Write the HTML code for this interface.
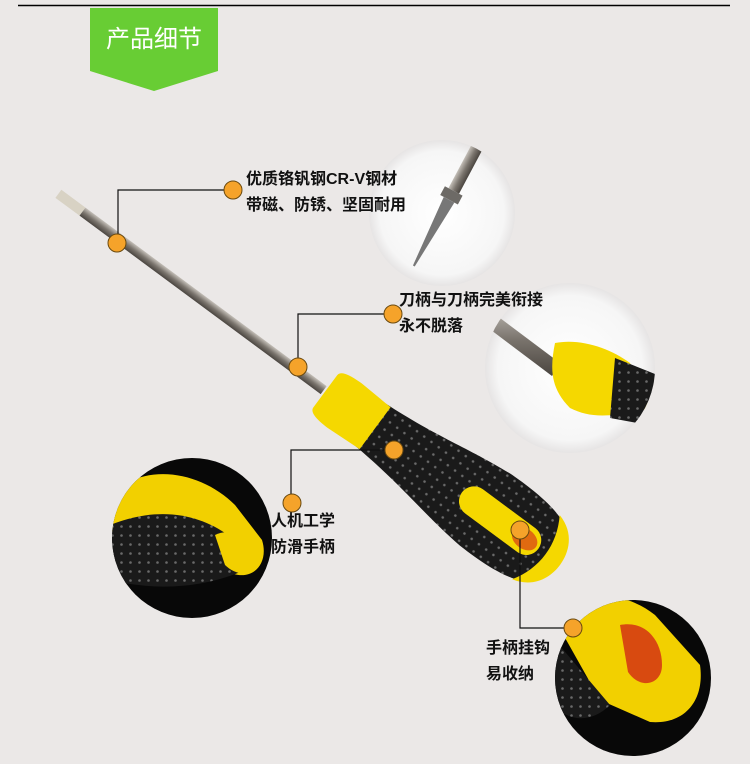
<!DOCTYPE html>
<html><head><meta charset="utf-8"><style>
html,body{margin:0;padding:0;}
body{width:750px;height:764px;background:#ebe8e7;position:relative;overflow:hidden;font-family:"Liberation Sans","Noto Sans CJK SC",sans-serif;}
.t{position:absolute;font-size:16px;color:#111;line-height:26px;font-weight:bold;}
</style></head><body>
<svg width="750" height="764" style="position:absolute;left:0;top:0">
<defs>
<radialGradient id="wg" cx="50%" cy="50%" r="50%"><stop offset="0" stop-color="#fff"/><stop offset="0.85" stop-color="#f6f6f6"/><stop offset="1" stop-color="#e6e4e4"/></radialGradient>
<linearGradient id="sh" x1="0" y1="0" x2="0" y2="1"><stop offset="0" stop-color="#c4bfb8"/><stop offset="0.5" stop-color="#7a746d"/><stop offset="1" stop-color="#4a4540"/></linearGradient>
<pattern id="dots" width="9" height="9" patternUnits="userSpaceOnUse"><rect width="9" height="9" fill="#1a1a1a"/><circle cx="4.5" cy="4.5" r="1.3" fill="#6a6a6a"/></pattern>
<clipPath id="c1"><circle cx="442" cy="213" r="73"/></clipPath>
<clipPath id="c2"><circle cx="570" cy="368" r="85"/></clipPath>
<clipPath id="c3"><circle cx="192" cy="538" r="80"/></clipPath>
<clipPath id="c4"><circle cx="633" cy="678" r="78"/></clipPath>
</defs>
<line x1="18" y1="5.5" x2="730" y2="5.5" stroke="#000" stroke-width="1.5"/>
<path d="M90,8 H218 V71 L154,91 L90,71 Z" fill="#68cd34"/>
<text x="154" y="47" text-anchor="middle" font-size="24" fill="#fff" font-family="Liberation Sans,Noto Sans CJK SC,sans-serif">产品细节</text>
<circle cx="442" cy="213" r="73" fill="url(#wg)"/>
<g clip-path="url(#c1)"><g transform="translate(442,213) rotate(-62)"><rect x="25" y="-6" width="80" height="12" fill="url(#sh)"/><rect x="15" y="-10" width="10" height="20" fill="#6d6a66"/><path d="M15,-6 L-60,-1 L-60,1 L15,6 Z" fill="#777"/></g></g>
<circle cx="570" cy="368" r="85" fill="url(#wg)"/>
<g clip-path="url(#c2)"><g transform="translate(570,368)"><path d="M-90,-65 L-10,-5 L-18,8 L-95,-50 Z" fill="url(#sh)"/><path d="M-15,-25 C10,-30 40,-20 60,-5 L80,40 C40,50 20,50 0,40 C-20,20 -20,0 -15,-25 Z" fill="#f5d800"/><path d="M45,-10 L95,10 L95,60 L40,50 Z" fill="url(#dots)"/></g></g>
<circle cx="192" cy="538" r="80" fill="#080808"/>
<g clip-path="url(#c3)">
<path d="M105,500 C140,460 200,470 235,505 L262,540 C270,565 250,585 225,570 C200,555 160,540 105,530 Z" fill="#f2d000"/>
<path d="M110,525 C160,505 200,515 228,535 L245,570 C200,590 150,590 110,580 Z" fill="url(#dots)"/>
<path d="M215,535 C235,525 262,545 262,560 C255,580 235,575 225,565 Z" fill="#f2d000"/>
</g>
<circle cx="633" cy="678" r="78" fill="#080808"/>
<g clip-path="url(#c4)">
<path d="M555,620 C590,585 630,595 655,615 L700,665 C705,700 685,725 650,722 L600,700 Z" fill="#f2d000"/>
<path d="M620,625 C645,620 662,640 662,665 C662,685 640,690 628,672 Z" fill="#d84a10"/>
<path d="M555,640 L610,705 C590,725 565,720 555,705 Z" fill="url(#dots)"/>
</g>
<g transform="translate(60,195) rotate(36.5)">
<path d="M-2,-5 L28,-5 L28,5 L-2,5 Z" fill="#d8d2c4"/>
<rect x="28" y="-5" width="300" height="10" fill="url(#sh)"/>
<path d="M385,-26 C450,-30 480,-40 530,-44 C605,-46 620,-30 620,0 C620,30 605,46 530,44 C480,40 450,30 385,26 Z" fill="url(#dots)"/>
<path d="M330,-20 C330,-26 340,-28 355,-28 L392,-26 L392,26 L355,28 C340,28 330,26 330,20 Z" fill="#f5d800"/>
<path d="M592,-40 C615,-34 622,-15 622,0 C622,15 615,34 592,40 C608,15 608,-15 592,-40 Z" fill="#f5d800"/>
<rect x="500" y="-15" width="95" height="30" rx="15" fill="#f5d800"/>
<ellipse cx="578" cy="0" rx="14" ry="10" fill="#e06a10"/>
</g>
<g stroke="#111" stroke-width="1.2" fill="none">
<polyline points="233,190 118,190 118,243"/>
<polyline points="393,314 298,314 298,367"/>
<polyline points="394,450 291,450 291,503"/>
<polyline points="520,530 520,628 575,628"/>
</g>
<g fill="#f5a32a" stroke="#6a4a10" stroke-width="1">
<circle cx="233" cy="190" r="9"/><circle cx="117" cy="243" r="9"/>
<circle cx="393" cy="314" r="9"/><circle cx="298" cy="367" r="9"/>
<circle cx="394" cy="450" r="9"/><circle cx="292" cy="503" r="9"/>
<circle cx="520" cy="530" r="9"/><circle cx="573" cy="628" r="9"/>
</g>
</svg>
<div class="t" style="left:246px;top:167px">优质铬钒钢CR-V钢材<br>带磁、防锈、坚固耐用</div>
<div class="t" style="left:399px;top:288px">刀柄与刀柄完美衔接<br>永不脱落</div>
<div class="t" style="left:271px;top:509px">人机工学<br>防滑手柄</div>
<div class="t" style="left:486px;top:636px">手柄挂钩<br>易收纳</div>
</body></html>
